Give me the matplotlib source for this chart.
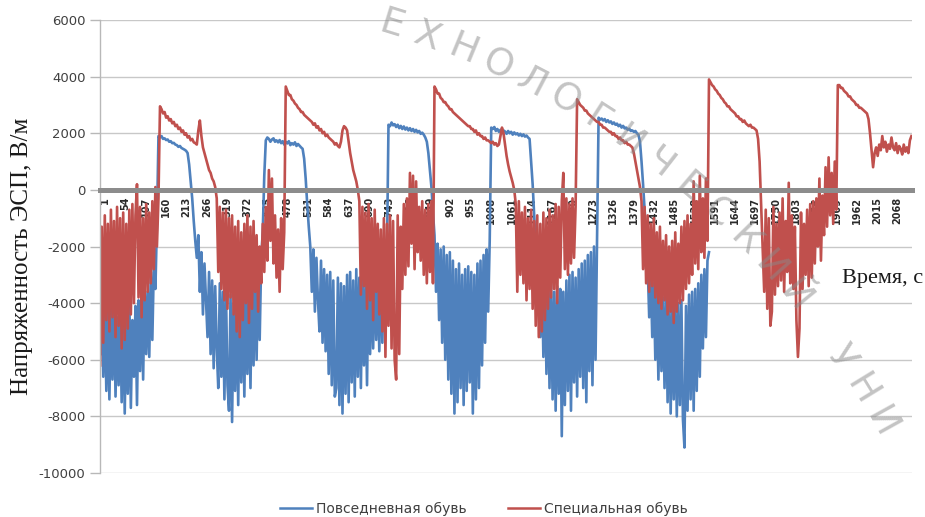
import numpy as np
import matplotlib
matplotlib.use("Agg")
import matplotlib.pyplot as plt
from matplotlib.lines import Line2D
from matplotlib.transforms import ScaledTranslation

# ---------------- data ----------------
N_TIME = 2118          # number of seconds on the category axis
STEP = 4               # sampling step (s) of the values below
TICK_STEP = 53         # category label interval

everyday = [  # Повседневная обувь, В/м
    -5800, -4000, -6600, -3900, -7100, -4300, -7400, -4100, -6700, -3700,
    -7300, -4500, -6900, -4200, -7500, -4000, -7900, -4400, -7200, -3800,
    -7700, -4600, -6600, -4100, -7600, -3900, -6400, -3500, -6700, -3300,
    -5800, -3600, -5900, -2900, -5300, -2600, -3500,
    -1200,
    1900, 1850, 1900, 1800, 1820, 1760, 1780, 1700, 1720, 1650,
    1660, 1600, 1580, 1520, 1550, 1480, 1450, 1420, 1380, 1300,
    900, 300, -300, -1100, -1800,
    -2400, -1600, -3600, -2200, -4400, -2600, -3900, -5200, -2900, -5800,
    -3200, -6300, -3400, -5600, -7000, -3300, -6600, -3600, -7400, -3500,
    -6900, -7800, -3700, -8200, -4000, -7100, -3600, -7600, -3400, -6800,
    -3300, -7300, -3100, -6500, -3400, -7000, -3000, -6200, -2800, -6000,
    -2600, -5300, -2400,
    -1500, 500,
    1750, 1850, 1800, 1700, 1780, 1820, 1700, 1750, 1680, 1760,
    1650, 1720, 1600, 1700, 1640, 1720, 1580, 1650, 1600, 1680,
    1550, 1620, 1560, 1500, 1450,
    1100, 400, -500, -1300, -2000,
    -3600, -2100, -4300, -2400, -3900, -5000, -2500, -5400, -2800, -5700,
    -3000, -6500, -2900, -6900, -3200, -7300, -7000, -3100, -7600, -3300,
    -7900, -3400, -7200, -3000, -7500, -2900, -6800, -3200, -7300, -2800,
    -6600, -3100, -7000, -2900, -6200, -3300, -6900, -2700, -5800, -3000,
    -5600, -2600, -5300, -2800, -5700, -2500, -5400, -2600, -4500,
    -2200,
    2300, 2250, 2380, 2280, 2320, 2220, 2300, 2180, 2260, 2150,
    2240, 2130, 2200, 2100, 2180, 2080, 2150, 2050, 2120, 2030,
    2080, 1980, 2020, 1950, 1850, 1700,
    1300, 700, 100, -800,
    -1600, -3600, -1900, -4600, -2100, -5400, -2000, -6000, -2300, -6700,
    -2200, -7200, -2500, -7900, -2800, -7500, -2600, -7000, -3000, -7600,
    -2800, -7100, -2700, -6800, -2900, -7900, -3000, -7400, -2600, -7000,
    -2500, -6200, -2300, -5400, -2100, -4300, -1800,
    2200, 2150, 2220, 2080, 2150, 2050, 2120, 2000, 2100, 2060,
    1980, 2080, 2000, 2050, 1950, 2030, 1960, 2000, 1920, 1980,
    1900, 1960, 1880, 1920, 1850, 1800,
    1000, 200, -900,
    -2000, -4200, -2400, -5200, -2700, -5900, -2900, -6500, -3100, -7000,
    -3300, -7400, -3600, -7800, -3400, -7200, -3500, -8700, -3600, -7600,
    -3200, -7100, -3000, -7800, -2900, -6800, -3100, -7300, -2800, -6600,
    -2600, -7000, -2500, -7500, -2300, -6400, -2200, -6900, -2000, -6000,
    -1800,
    2550, 2480, 2520, 2450, 2500, 2400, 2460, 2380, 2420, 2330,
    2380, 2300, 2340, 2250, 2300, 2200, 2260, 2170, 2200, 2120,
    2160, 2080, 2100, 2050, 2080, 2000, 1950,
    1700, 1000, 200, -700, -1500,
    -2600, -4500, -3000, -5200, -3300, -6000, -3500, -6700, -3600, -6400,
    -3800, -7000, -3700, -7500, -3900, -7900, -4000, -7400, -3800, -8000,
    -4000, -7600, -3900, -8100, -9100, -4100, -7800, -3700, -7400, -3600,
    -7800, -3500, -7100, -3300, -6600, -3000, -5600, -2800, -5200, -2500,
    -2200,
]

special = [  # Специальная обувь, В/м
    -6200, -1300, -5400, -900, -4600, -1200, -5000, -700, -4500, -1100,
    -5200, -600, -4800, -1000, -5600, -800, -5300, -1200, -4900, -700,
    -4400, -500, -4000, -900, 200, -3800, -600, -4500, -1000, -3900,
    -500, -3600, -800, -3300, -400, -2800, 100, -2000, -300,
    2950, 2850, 2700, 2750, 2550, 2600, 2450, 2500, 2350, 2400,
    2250, 2300, 2150, 2200, 2050, 2100, 1950, 2000, 1850, 1900,
    1750, 1800, 1680, 1650,
    1600, 2100, 2450, 1900, 1500, 1300, 1100, 900, 700, 600, 400, 300, 100, -300,
    -2900, -600, -3500, -800, -3900, -700, -4200, -1000, -3800, -900,
    -4400, -1300, -5000, -1100, -5200, -1500, -4600, -1200, -4000, -900,
    -4700, -1300, -4200, -1100, -3600, -1600, -4300, -2000, -3300, -1200,
    -2900, -600, -2500, 700, -1800, 400, -2600, -900, -3100, -1400,
    -3600, -1000, -2800, -1500,
    3650, 3500, 3350, 3350, 3200, 3150, 3050, 3000, 2900, 2850,
    2750, 2750, 2650, 2600, 2550, 2500, 2450, 2400, 2300, 2350,
    2200, 2250, 2100, 2150, 2000, 2050, 1900, 1950, 1850, 1800,
    1750, 1700, 1600, 1650, 1550, 1500,
    1700, 2100, 2250, 2200, 2100, 1700, 1300, 1000, 700, 500, 300, 0, -400,
    -3700, -600, -3400, -800, -4200, -500, -3900, -1000, -4600, -700,
    -3600, -1200, -4400, -1400, -5000, -1000, -5900, -1200, -4800, -900,
    -5600, -1100, -6000, -6700, -900, -5800, -1300, -3500, -500, -3000,
    -300, -2700, 600, -1900, 500, -2800, 300, -2200, -600, -2500,
    -400, -3000, -700, -3300, -500, -2900, -400, -3300,
    3650, 3550, 3400, 3400, 3250, 3200, 3100, 3100, 3000, 2950,
    2850, 2850, 2750, 2700, 2650, 2600, 2550, 2500, 2450, 2400,
    2350, 2300, 2250, 2250, 2150, 2150, 2050, 2100, 1950, 2000,
    1900, 1900, 1800, 1850, 1750, 1750, 1700, 1650, 1700, 1600,
    1650, 1550, 1600,
    1900, 2200, 2000, 1600, 1200, 900, 650, 450, 250, 0, -500,
    -3600, -400, -3000, -800, -3300, -600, -3900, -1000, -3500, -700,
    -4200, -1100, -4800, -900, -5200, -1200, -5000, -800, -4600, -1000,
    -4200, -700, -3800, -900, -3500, -500, -4000, -600, -3100, -400,
    600, -2800, -300, -3000, -500, -2600, -300, -2400, -600,
    3200, 3100, 3000, 2950, 2900, 2800, 2800, 2700, 2650, 2600,
    2550, 2500, 2450, 2400, 2400, 2300, 2300, 2200, 2200, 2150,
    2100, 2050, 2050, 1950, 2000, 1900, 1900, 1800, 1850, 1750,
    1750, 1650, 1700, 1600, 1600, 1550, 1500,
    1300, 1000, 700, 400, 100, -400,
    -2800, -600, -3300, -900, -3600, -1200, -3400, -1000, -3800, -1500,
    -4000, -1300, -4200, -1800, -3900, -1600, -4400, -2000, -4300, -1800,
    -4700, -1500, -4300, -1900, -4000, -1300, -3900, -1100, -3500, -900,
    -3300, -1200, -3000, 300, -2600, -400, -2800, 500, -2200, -300,
    -2400, 400, -1800,
    3900, 3800, 3700, 3650, 3550, 3500, 3400, 3350, 3250, 3200,
    3100, 3050, 2950, 2950, 2850, 2800, 2750, 2700, 2600, 2600,
    2500, 2500, 2400, 2450, 2350, 2300, 2250, 2300, 2200, 2200,
    2150, 2100,
    1800, 1000, -500, -2000,
    -3600, -700, -4200, -1000, -4800, -4300, -600, -3700, -1200, -3400,
    -800, -3200, -300, -3600, -1100, -2900, 250, -3300, -900, -3500,
    -1300, -4600, -5900, -4900, -800, -3500, -1200, -3000, -700, -3400,
    -500, -3100, -400, -2600, -300, -2000, 400, -2500, -200, -1600,
    800, -1300, 1150, -900, 600, -1200, 1000, -700,
    3700, 3700, 3600, 3600, 3500, 3450, 3400, 3300, 3300, 3200,
    3150, 3100, 3000, 3000, 2900, 2900, 2850, 2800, 2750, 2700,
    2500,
    2000, 1400, 800,
    1300, 1500, 1200, 1600, 1400, 1900, 1500, 1700, 1350, 1600,
    1450, 1850, 1500, 1400, 1650, 1300, 1550, 1450, 1250, 1600,
    1350, 1500, 1300, 1750, 1900,
]

series_names = ["Повседневная обувь", "Специальная обувь"]
y_ticks = [-10000, -8000, -6000, -4000, -2000, 0, 2000, 4000, 6000]
y_label = "Напряженность ЭСП, В/м"
x_label = "Время, с"
watermark = "ТЕХНОЛОГИЧЕСКИЙ УНИВЕРСИТЕТ"

# ---------------- figure ----------------
plt.rcParams["axes.unicode_minus"] = False
W, H = 925, 517
fig = plt.figure(figsize=(W / 100, H / 100), dpi=100)
ax = fig.add_axes([100 / W, 1 - 473 / H, 812 / W, 453 / H])

BLUE = "#4F81BD"
RED = "#C0504D"

t_blue = 1 + STEP * np.arange(len(everyday))
t_red = 1 + STEP * np.arange(len(special))
ax.plot(t_blue, everyday, color=BLUE, lw=1.9, zorder=2)
ax.plot(t_red, special, color=RED, lw=1.9, zorder=2.1)

ax.set_xlim(0.5, N_TIME + 0.5)
ax.set_ylim(min(y_ticks), max(y_ticks))
ax.set_yticks(y_ticks)
ax.set_yticklabels([str(v) for v in y_ticks])
ax.grid(axis="y", color="#c8c8c8", lw=1.0)
ax.set_axisbelow(True)

for s in ["top", "right"]:
    ax.spines[s].set_visible(False)
ax.spines["left"].set_color("#b8b8b8")
ax.spines["left"].set_linewidth(1.0)
ax.spines["bottom"].set_position(("data", 0))
ax.spines["bottom"].set_color("#8c8c8c")
ax.spines["bottom"].set_linewidth(3.6)
ax.spines["bottom"].set_zorder(3)

ax.tick_params(axis="y", length=7, width=1, color="#b8b8b8", pad=3.5,
               labelsize=9.5, labelcolor="#404040")
ticks = np.arange(1, N_TIME + 1, TICK_STEP)
ax.set_xticks(ticks)
ax.set_xticklabels([str(t) for t in ticks], rotation=90, fontsize=7,
                   fontweight="bold", color="#2a2a2a")
ax.tick_params(axis="x", length=0, pad=5)
off = ScaledTranslation(5 / 100, 0, fig.dpi_scale_trans)
for lab in ax.get_xticklabels():
    lab.set_transform(lab.get_transform() + off)

# axis titles
fig.text(22 / W, 1 - 256 / H, y_label, rotation=90, ha="center", va="center",
         fontsize=18, family="Liberation Serif", color="#1a1a1a")
fig.text(842 / W, 1 - 278 / H, x_label, ha="left", va="center",
         fontsize=16, family="Liberation Serif", color="#1a1a1a")

# legend
handles = [Line2D([], [], color=BLUE, lw=1.8), Line2D([], [], color=RED, lw=1.8)]
fig.legend(handles, series_names, loc="center", bbox_to_anchor=(484 / W, 1 - 509 / H),
           ncol=2, frameon=False, fontsize=10, handlelength=2.3,
           handletextpad=0.3, columnspacing=3.0, labelcolor="#404040")

# faint watermark along a large arc (a stamp overlapping the picture)
cx, cy, R = 142.0, 831.0, 844.0
dphi = np.radians(2.58)
phi0 = np.radians(14.6)
for k, ch in enumerate(watermark):
    phi = phi0 + k * dphi
    px = cx + R * np.sin(phi)
    py = cy - R * np.cos(phi)
    if px > W - 28 or py > H - 28 or py < 24:
        continue
    fig.text(px / W, 1 - py / H, ch, rotation=-np.degrees(phi), ha="center", va="center",
             fontsize=27, color="#8a8a8a", alpha=0.5, rotation_mode="anchor", zorder=10)

fig.savefig("out.png", dpi=100)
